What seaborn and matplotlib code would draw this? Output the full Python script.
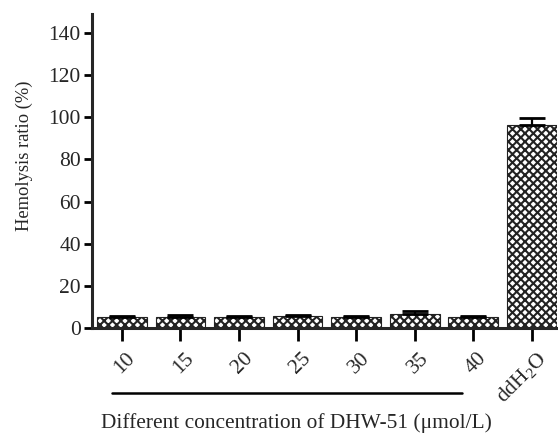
import numpy as np
import pandas as pd
import matplotlib.pyplot as plt
import matplotlib.transforms as mtransforms
import seaborn as sns

groups = ['10', '15', '20', '25', '30', '35', '40', 'ddH$_2$O']
ratio = [5.1, 5.4, 5.1, 5.7, 5.0, 6.6, 5.0, 96.3]
err = [0.5, 0.8, 0.6, 0.6, 0.7, 1.6, 0.7, 3.4]

sns.set_style('ticks')
plt.rcParams['font.family'] = ['Liberation Serif', 'DejaVu Serif']
plt.rcParams['mathtext.fontset'] = 'custom'
plt.rcParams['mathtext.rm'] = 'Liberation Serif'
plt.rcParams['mathtext.it'] = 'Liberation Serif:italic'
plt.rcParams['hatch.linewidth'] = 1.5

df = pd.DataFrame({'group': groups, 'ratio': ratio})

fig = plt.figure(figsize=(5.58, 4.34), dpi=100)
ax = fig.add_axes([92 / 558, 106 / 434, 465 / 558, 314 / 434])

sns.barplot(data=df, x='group', y='ratio', color='white', saturation=1,
            edgecolor='#222222', linewidth=0.8, width=0.85, errorbar=None,
            hatch='xxxx', ax=ax)
ax.errorbar(np.arange(len(groups)), ratio, yerr=[np.zeros(len(err)), err],
            fmt='none', ecolor='black', elinewidth=1.6, capsize=9.5,
            capthick=2)

ax.set_xlim(-0.51, 7.43)
ax.set_ylim(0, 149)
ax.set_yticks(range(0, 141, 20))
sns.despine(ax=ax)
for s in ['left', 'bottom']:
    ax.spines[s].set_linewidth(2.2)
ax.tick_params(axis='y', length=6, width=2, labelsize=15.5, pad=2, color='black')
ax.tick_params(axis='x', length=9, width=2, labelsize=15.5, pad=6, color='black')
ax.set_xticks(range(len(groups)))
ax.set_xticklabels(groups, rotation=45, ha='right', va='top',
                   rotation_mode='anchor')
off = mtransforms.ScaledTranslation(4 / 100, 0, fig.dpi_scale_trans)
for lab in ax.get_xticklabels():
    lab.set_transform(lab.get_transform() + off)

ax.set_xlabel('')
ax.set_ylabel('Hemolysis ratio (%)', fontsize=13.3)
ax.yaxis.set_label_coords(-0.127, 0.548)

# bracket under the DHW-51 concentrations
ax.plot([0 - 0.17, 6 - 0.19], [-0.207, -0.207], transform=ax.get_xaxis_transform(),
        clip_on=False, color='black', lw=1.8)
fig.text(296 / 558, 6 / 434, 'Different concentration of DHW-51 (μmol/L)',
         ha='center', va='baseline', fontsize=15.4)

fig.savefig('out.png', dpi=100)
